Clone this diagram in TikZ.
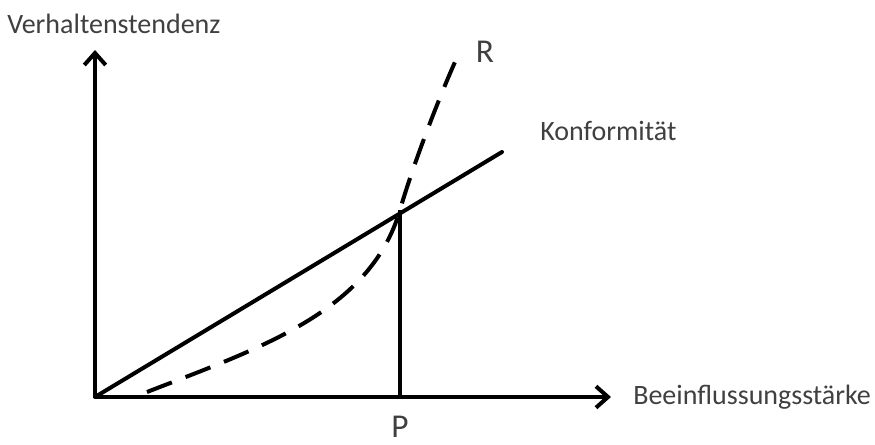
\documentclass[tikz,border=0pt]{standalone}
\usepackage{fontspec}
\setmainfont{Carlito}
\usetikzlibrary{arrows.meta}

\begin{document}
\begin{tikzpicture}[
  x=0.75pt, y=-0.75pt,
  >={Straight Barb[length=9pt,width=16pt,line width=3pt]},
  axis/.style={line width=3pt,->},
  lbl/.style={font=\fontsize{21}{25}\selectfont, text=black!75, inner sep=0pt},
  big/.style={font=\fontsize{25}{30}\selectfont, text=black!75, inner sep=0pt}]
  \useasboundingbox (0,0) rectangle (875,445);
  %  -- - axes  -- -
  \coordinate (o) at (95,397);
  \coordinate (ytop) at (95,50);
  \coordinate (xend) at (611,397);
  \draw[axis] (o) -- (ytop);
  \draw[axis] (o) -- (xend);
  \node[lbl, anchor=west] (ylab) at (7,24) {Verhaltenstendenz};
  \node[lbl, anchor=west] (xlab) at (633,397) {Beeinflussungsstärke};
  %  -- - conformity line  -- -
  \coordinate (k) at (502,152);
  \coordinate (s) at (400,210);
  \draw[line width=3pt, line cap=round] (o) -- (k);
  \node[lbl, anchor=west] (klab) at (540,131) {Konformität};
  %  -- - reactance curve  -- -
  \coordinate (r0) at (147,392);
  \coordinate (r1) at (455,62);
  \draw[line width=3pt, dash pattern=on 20pt off 11pt]
    (r0) .. controls (260,348) and (370,312) .. (s)
         .. controls (412,168) and (438,100) .. (r1);
  \node[big] (rlab) at (485,52) {R};
  %  -- - point P  -- -
  \coordinate (p) at (400,397);
  \draw[line width=2.4pt] (s) -- (p);
  \node[big, anchor=south] (plab) at (400,438) {P};
\end{tikzpicture}
\end{document}
